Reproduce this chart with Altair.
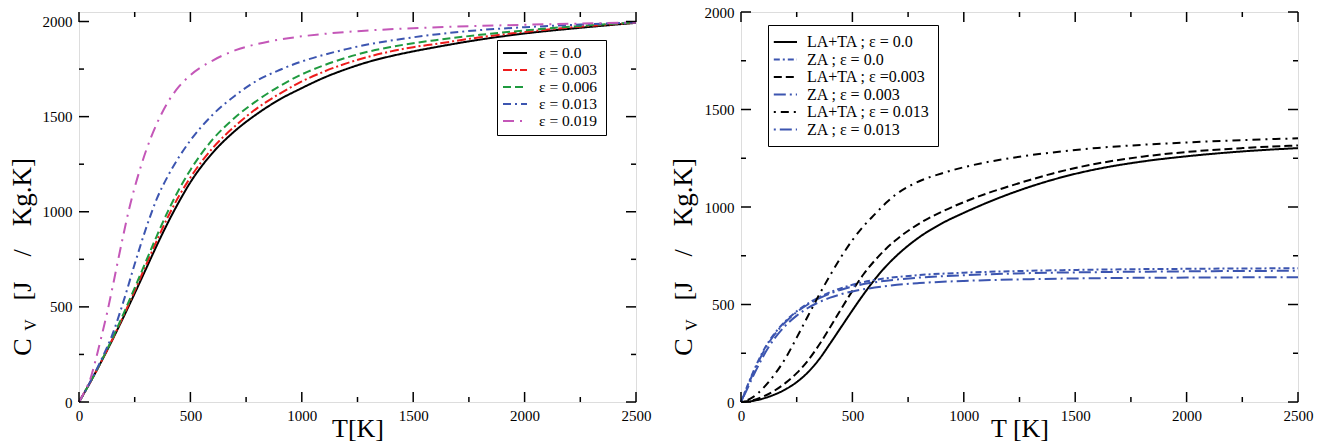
import altair as alt
import pandas as pd

# ---------------- data : left panel (C_V vs T for several strains) ----------------
L_labels = ["ε = 0.0", "ε = 0.003", "ε = 0.006", "ε =  0.013", "ε = 0.019"]

L0_T  = [0, 50, 100, 150, 200, 250, 300, 350, 400, 450, 500, 600, 700, 800, 900, 1000, 1100, 1200, 1300, 1400, 1500, 1600, 1800, 2000, 2250, 2500]
L0_Cv = [0, 103, 212, 327, 447, 571, 698, 825, 945, 1055, 1155, 1310, 1425, 1515, 1590, 1650, 1705, 1750, 1788, 1818, 1843, 1865, 1905, 1937, 1967, 1993]

L1_T  = [0, 50, 100, 150, 200, 250, 300, 350, 400, 450, 500, 600, 700, 800, 900, 1000, 1100, 1200, 1300, 1400, 1500, 1600, 1800, 2000, 2250, 2500]
L1_Cv = [0, 103, 213, 330, 455, 585, 718, 850, 975, 1085, 1180, 1335, 1450, 1545, 1620, 1685, 1737, 1780, 1815, 1843, 1865, 1882, 1917, 1945, 1973, 1994]

L2_T  = [0, 50, 100, 150, 200, 250, 300, 350, 400, 450, 500, 600, 700, 800, 900, 1000, 1100, 1200, 1300, 1400, 1500, 1600, 1800, 2000, 2250, 2500]
L2_Cv = [0, 103, 215, 335, 465, 600, 738, 875, 1005, 1120, 1220, 1380, 1495, 1585, 1660, 1722, 1770, 1810, 1842, 1866, 1886, 1902, 1930, 1953, 1977, 1996]

L3_T  = [0, 50, 100, 150, 200, 250, 300, 350, 400, 450, 500, 600, 700, 800, 900, 1000, 1100, 1200, 1300, 1400, 1500, 1600, 1800, 2000, 2250, 2500]
L3_Cv = [0, 105, 222, 355, 530, 725, 910, 1070, 1190, 1290, 1375, 1510, 1610, 1690, 1745, 1790, 1825, 1855, 1880, 1900, 1917, 1932, 1955, 1970, 1984, 1995]

L4_T  = [0, 25, 50, 75, 100, 125, 150, 175, 200, 225, 250, 275, 300, 350, 400, 450, 500, 600, 700, 800, 900, 1000, 1100, 1300, 1500, 1750, 2000, 2250, 2500]
L4_Cv = [0, 55, 118, 222, 340, 463, 600, 743, 883, 1015, 1128, 1228, 1318, 1465, 1578, 1660, 1718, 1795, 1848, 1882, 1905, 1922, 1935, 1953, 1965, 1975, 1983, 1989, 1995]

# ---------------- data : right panel (LA+TA and ZA contributions) ----------------
R_labels = ["LA+TA ; ε = 0.0", "ZA ; ε = 0.0", "LA+TA ; ε =0.003",
            "ZA ; ε = 0.003", "LA+TA ; ε = 0.013", "ZA ; ε = 0.013"]

R0_T  = [0, 50, 100, 150, 200, 250, 300, 350, 400, 450, 500, 550, 600, 650, 700, 800, 900, 1000, 1100, 1200, 1300, 1400, 1500, 1600, 1800, 2000, 2250, 2500]
R0_Cv = [0, 5, 18, 38, 65, 102, 152, 218, 300, 385, 470, 552, 628, 695, 752, 845, 915, 970, 1020, 1065, 1105, 1140, 1170, 1195, 1233, 1260, 1285, 1302]

R1_T  = [0, 25, 50, 75, 100, 125, 150, 200, 250, 300, 350, 400, 450, 500, 600, 700, 800, 1000, 1300, 1600, 2000, 2500]
R1_Cv = [0, 72, 142, 205, 262, 310, 350, 415, 465, 505, 537, 563, 584, 601, 626, 641, 651, 663, 673, 679, 683, 686]

R2_T  = [0, 50, 100, 150, 200, 250, 300, 350, 400, 450, 500, 550, 600, 650, 700, 800, 900, 1000, 1100, 1200, 1300, 1400, 1500, 1600, 1800, 2000, 2250, 2500]
R2_Cv = [0, 8, 28, 58, 98, 148, 212, 292, 383, 478, 570, 655, 725, 785, 835, 915, 975, 1025, 1068, 1105, 1140, 1172, 1200, 1223, 1258, 1282, 1302, 1316]

R3_T  = [0, 25, 50, 75, 100, 125, 150, 200, 250, 300, 350, 400, 450, 500, 600, 700, 800, 1000, 1300, 1600, 2000, 2500]
R3_Cv = [0, 68, 136, 198, 255, 304, 345, 410, 461, 500, 531, 556, 576, 592, 614, 628, 638, 650, 661, 666, 670, 673]

R4_T  = [0, 50, 100, 150, 200, 250, 300, 350, 400, 450, 500, 550, 600, 650, 700, 800, 900, 1000, 1100, 1200, 1300, 1400, 1600, 1800, 2000, 2250, 2500]
R4_Cv = [0, 22, 72, 140, 225, 330, 440, 548, 650, 745, 830, 902, 962, 1020, 1068, 1132, 1172, 1204, 1229, 1249, 1266, 1280, 1303, 1319, 1331, 1343, 1352]

R5_T  = [0, 25, 50, 75, 100, 125, 150, 200, 250, 300, 350, 400, 450, 500, 600, 700, 800, 1000, 1300, 1600, 2000, 2500]
R5_Cv = [0, 60, 122, 180, 235, 283, 325, 392, 443, 482, 512, 535, 553, 567, 587, 601, 610, 621, 630, 635, 638, 640]

# ---------------- axis ticks ----------------
X_MAJOR = [0, 500, 1000, 1500, 2000, 2500]
X_MINOR = [250, 750, 1250, 1750, 2250]
Y_MAJOR = [0, 500, 1000, 1500, 2000]
Y_MINOR = [250, 750, 1250, 1750]

FONT = "Liberation Serif"
W, H = 557, 390

L_colors = ["#000000", "#ee1c1c", "#1f9a3f", "#3c55b0", "#c457b8"]
L_dashes = [[1, 0], [9, 3, 2, 3], [8, 4], [8, 4, 2, 4], [11, 6, 2, 6]]
BLUE = "#3c55b0"
R_colors = ["#000000", BLUE, "#000000", BLUE, "#000000", BLUE]
R_dashes = [[1, 0], [6, 3, 2, 3], [8, 4], [12, 4, 2, 4], [2, 5, 8, 5], [2, 4, 12, 4]]


def long_df(labels, pairs):
    rows = []
    for lab, (ts, cs) in zip(labels, pairs):
        for t, c in zip(ts, cs):
            rows.append({"T": t, "Cv": c, "series": lab})
    return pd.DataFrame(rows)


def panel(df, labels, colors, dashes, ydom, xtitle, leg_x, leg_y, leg_pad,
          sym_path, sym_size, lab_off, row_pad, lab_fs, title_dx):
    xscale = alt.Scale(domain=[0, 2500], nice=False, zero=False)
    yscale = alt.Scale(domain=ydom, nice=False, zero=False)
    xaxis = alt.Axis(values=X_MAJOR, title=xtitle, grid=False, ticks=False, domain=False,
                     labelFont=FONT, labelFontSize=15, labelColor="black", labelPadding=6,
                     labelFlush=False, format="d",
                     titleFont=FONT, titleFontSize=26, titleFontWeight="normal",
                     titleColor="black", titlePadding=-8)
    yaxis = alt.Axis(values=Y_MAJOR, title=None, grid=False, ticks=False, domain=False,
                     labelFont=FONT, labelFontSize=15, labelColor="black", labelPadding=7,
                     labelFlush=False, format="d")
    legend = alt.Legend(title=None, orient="none", legendX=leg_x, legendY=leg_y,
                        strokeColor="black", fillColor="white", padding=leg_pad,
                        cornerRadius=0, labelFont=FONT, labelFontSize=lab_fs,
                        labelColor="black", symbolType=sym_path, symbolSize=sym_size,
                        symbolStrokeWidth=2, labelOffset=lab_off, rowPadding=row_pad,
                        labelLimit=300)

    lines = alt.Chart(df).mark_line(strokeWidth=2, interpolate="monotone").encode(
        x=alt.X("T:Q", scale=xscale, axis=xaxis),
        y=alt.Y("Cv:Q", scale=yscale, axis=yaxis),
        color=alt.Color("series:N", scale=alt.Scale(domain=labels, range=colors), legend=legend),
        strokeDash=alt.StrokeDash("series:N", scale=alt.Scale(domain=labels, range=dashes),
                                  legend=legend),
    )

    layers = [lines]
    xmaj = pd.DataFrame({"v": X_MAJOR})
    xmin = pd.DataFrame({"v": X_MINOR})
    ymaj = pd.DataFrame({"v": Y_MAJOR})
    ymin = pd.DataFrame({"v": Y_MINOR})
    for d, ln in ((xmaj, 10), (xmin, 5)):
        for y0, y1 in ((H, H - ln), (0, ln)):
            layers.append(alt.Chart(d).mark_rule(color="black", strokeWidth=1.5).encode(
                x=alt.X("v:Q", scale=xscale, axis=xaxis),
                y=alt.value(y0), y2=alt.value(y1)))
    for d, ln in ((ymaj, 10), (ymin, 5)):
        for x0, x1 in ((0, ln), (W, W - ln)):
            layers.append(alt.Chart(d).mark_rule(color="black", strokeWidth=1.5).encode(
                y=alt.Y("v:Q", scale=yscale, axis=yaxis),
                x=alt.value(x0), x2=alt.value(x1)))

    one = pd.DataFrame({"k": [0]})
    pieces = [("C", 26, title_dx, 335), ("V", 16, title_dx + 8, 313),
              ("[J", 26, title_dx, 279), ("/", 26, title_dx, 241),
              ("Kg.K]", 27, title_dx, 180)]
    for txt, fs, px, py in pieces:
        layers.append(alt.Chart(one).mark_text(
            text=txt, font=FONT, fontSize=fs, angle=270, align="center",
            baseline="middle", color="black").encode(
            x=alt.value(px), y=alt.value(py)))

    return alt.layer(*layers).properties(width=W, height=H)


left_df = long_df(L_labels, [(L0_T, L0_Cv), (L1_T, L1_Cv), (L2_T, L2_Cv),
                             (L3_T, L3_Cv), (L4_T, L4_Cv)])
right_df = long_df(R_labels, [(R0_T, R0_Cv), (R1_T, R1_Cv), (R2_T, R2_Cv),
                              (R3_T, R3_Cv), (R4_T, R4_Cv), (R5_T, R5_Cv)])

left = panel(left_df, L_labels, L_colors, L_dashes, [0, 2050], "T[K]",
             418, 28, 5, "M-1,0H2.43", 196, 21, 0, 15.5, -56)
right = panel(right_df, R_labels, R_colors, R_dashes, [0, 2000], "T [K]",
              27, 13, 8, "M-1.4,0H1.5", 256, 13, 0.5, 16, -57)

chart = alt.hconcat(left, right, spacing=17).resolve_scale(
    color="independent", strokeDash="independent"
).resolve_legend(
    color="independent", strokeDash="independent"
).properties(
    padding={"left": 8, "top": 4, "right": 0, "bottom": 0}
).configure_view(stroke="black", strokeWidth=2).configure(background="white")

chart.save("out.html", embed_options={"renderer": "svg", "actions": False})
